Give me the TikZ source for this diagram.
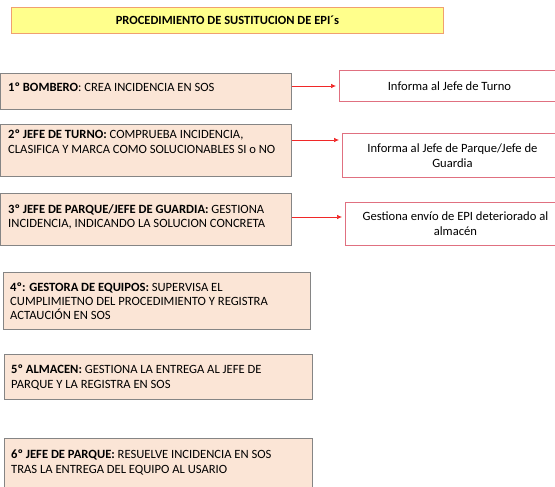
\documentclass[tikz,border=0pt]{standalone}
\usepackage{fontspec}
\setmainfont{Carlito}
\usetikzlibrary{positioning,calc,arrows.meta}

\definecolor{peach}{HTML}{FBE5D6}
\definecolor{boxgray}{HTML}{858585}
\definecolor{titleyellow}{HTML}{FFFF8C}
\definecolor{titleborder}{HTML}{F0A070}
\definecolor{infored}{HTML}{E07080}
\definecolor{arrowred}{HTML}{F02828}

\tikzset{
  stepbox/.style={draw=boxgray, fill=peach, line width=0.9pt, inner sep=0pt, anchor=north west},
  steptext/.style={anchor=north west, inner sep=0pt, align=left, font=\fontsize{12.6}{14.6}\selectfont},
  infobox/.style={draw=infored, fill=white, line width=0.9pt, inner sep=0pt, anchor=north west,
    align=center, font=\fontsize{12.6}{15}\selectfont, minimum width=220pt},
  redarrow/.style={draw=arrowred, line width=0.7pt, -{Latex[length=5pt,width=4.5pt]}, shorten >=3pt}
}

\begin{document}
\begin{tikzpicture}[x=1pt,y=-1pt]
    \useasboundingbox (0,0) rectangle (555,487);
    \clip (0,0) rectangle (555,487);

    % titulo
    \node [draw=titleborder, fill=titleyellow, line width=0.9pt, anchor=north west,
      minimum width=432pt, minimum height=26pt, inner sep=0pt] (titulo) at (11,7) {};
    \node [font=\fontsize{12.5}{14}\selectfont\bfseries] (tituloTxt) at (titulo.center)
      {PROCEDIMIENTO DE SUSTITUCION DE EPI´s};

    % pasos
    \node [stepbox, minimum width=291pt, minimum height=36pt] (bombero) at (0,73) {};
    \node [steptext] (bomberoTxt) at ($(bombero.north west)+(8,9.5)$)
      {\textbf{1º BOMBERO}: CREA INCIDENCIA EN SOS};

    \node [stepbox, minimum width=291pt, minimum height=52pt] (turno) at (0,124) {};
    \node [steptext] (turnoTxt) at ($(turno.north west)+(8,5.5)$)
      {\textbf{2º JEFE DE TURNO:} COMPRUEBA INCIDENCIA,\\
       CLASIFICA Y MARCA COMO SOLUCIONABLES SI o NO};

    \node [stepbox, minimum width=291pt, minimum height=52pt] (parque) at (0,193) {};
    \node [steptext] (parqueTxt) at ($(parque.north west)+(8,11)$)
      {\textbf{3º JEFE DE PARQUE/JEFE DE GUARDIA:} GESTIONA\\
       INCIDENCIA, INDICANDO LA SOLUCION CONCRETA};

    \node [stepbox, minimum width=307pt, minimum height=57pt] (gestora) at (3,272) {};
    \node [steptext, font=\fontsize{12.6}{13.8}\selectfont] (gestoraTxt) at ($(gestora.north west)+(7,10.5)$)
      {\textbf{4º: GESTORA DE EQUIPOS:} SUPERVISA EL\\
       CUMPLIMIETNO DEL PROCEDIMIENTO Y REGISTRA\\
       ACTAUCIÓN EN SOS};

    \node [stepbox, minimum width=308pt, minimum height=45pt] (almacen) at (4,354) {};
    \node [steptext] (almacenTxt) at ($(almacen.north west)+(7,10.5)$)
      {\textbf{5º ALMACEN:} GESTIONA LA ENTREGA AL JEFE DE\\
       PARQUE Y LA REGISTRA EN SOS};

    \node [stepbox, minimum width=308pt, minimum height=60pt] (resuelve) at (4,438) {};
    \node [steptext] (resuelveTxt) at ($(resuelve.north west)+(7,11.5)$)
      {\textbf{6º JEFE DE PARQUE:} RESUELVE INCIDENCIA EN SOS\\
       TRAS LA ENTREGA DEL EQUIPO AL USARIO};

    % avisos
    \node [infobox, minimum height=31pt] (infoTurno) at (339,70) {Informa al Jefe de Turno};
    \node [infobox, minimum height=44pt] (infoParque) at (342,133)
      {Informa al Jefe de Parque/Jefe de\\ Guardia};
    \node [infobox, minimum height=43pt] (envio) at (345,202)
      {Gestiona envío de EPI deteriorado al\\ almacén};

    \coordinate (a1) at ($(bombero.north east)+(0,13)$);
    \coordinate (a2) at ($(turno.north east)+(0,16)$);
    \coordinate (a3) at ($(parque.north east)+(0,24)$);
    \draw [redarrow] (a1) -- (infoTurno.west |- a1);
    \draw [redarrow] (a2) -- (infoParque.west |- a2);
    \draw [redarrow] (a3) -- (envio.west |- a3);
\end{tikzpicture}
\end{document}
